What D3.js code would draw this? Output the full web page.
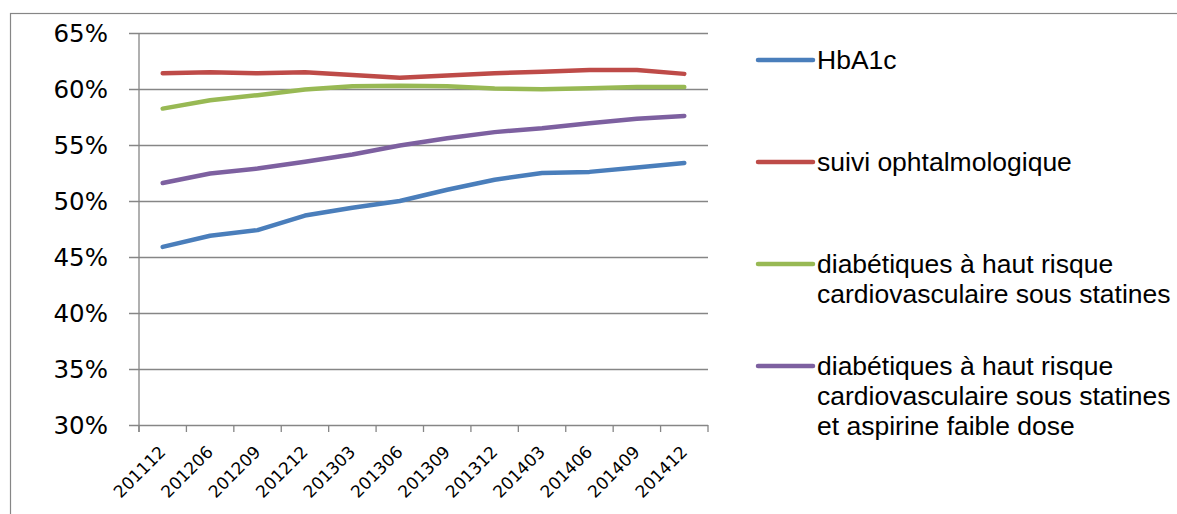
<!DOCTYPE html>
<html>
<head>
<meta charset="utf-8">
<script src="https://cdn.jsdelivr.net/npm/d3@7"></script>
<style>
  html, body { margin: 0; padding: 0; background: #fff; }
  svg { display: block; }
</style>
</head>
<body>
<svg id="chart" width="1177" height="514"></svg>
<script>
const categories = ["201112","201206","201209","201212","201303","201306","201309","201312","201403","201406","201409","201412"];
const hba1c      = [45.9, 46.9, 47.4, 48.7, 49.4, 50.0, 51.0, 51.9, 52.5, 52.6, 53.0, 53.4];
const ophtalmo   = [61.4, 61.5, 61.4, 61.5, 61.25, 61.0, 61.2, 61.4, 61.55, 61.7, 61.7, 61.35];
const statines   = [58.25, 59.0, 59.45, 59.95, 60.25, 60.3, 60.25, 60.05, 59.97, 60.06, 60.17, 60.17];
const statinesAspirine = [51.6, 52.45, 52.9, 53.5, 54.15, 54.95, 55.6, 56.15, 56.5, 56.95, 57.35, 57.6];
const yTicks = [30, 35, 40, 45, 50, 55, 60, 65];
const seriesNames = [
  ["HbA1c"],
  ["suivi ophtalmologique"],
  ["diabétiques à haut risque", "cardiovasculaire sous statines"],
  ["diabétiques à haut risque", "cardiovasculaire sous statines", "et aspirine faible dose"]
];
const seriesValues = [hba1c, ophtalmo, statines, statinesAspirine];
const colors = ["#4A7EBB", "#BE4B48", "#98B954", "#7D60A0"];

(function () {
const svg = d3.select("#chart");
const gridColor = "#868686";

// outer frame
svg.append("rect")
  .attr("x", 10.5).attr("y", 13.5)
  .attr("width", 1300).attr("height", 700)
  .attr("fill", "none").attr("stroke", gridColor).attr("stroke-width", 1.2);

const pLeft = 139, pRight = 708, pTop = 33, pBottom = 425;
const x = d3.scaleBand().domain(categories).range([pLeft, pRight]).paddingInner(0).paddingOuter(0);
const y = d3.scaleLinear().domain([30, 65]).range([pBottom, pTop]);

// y grid + ticks + labels
const yAxis = d3.axisLeft(y).tickValues(yTicks).tickSize(-(pRight - pLeft)).tickPadding(0)
  .tickFormat(d => d + "%");
const gy = svg.append("g").attr("transform", `translate(${pLeft},0)`).call(yAxis);
gy.select(".domain").remove();
gy.selectAll(".tick line")
  .attr("x1", -10).attr("x2", pRight - pLeft)
  .attr("stroke", gridColor).attr("stroke-width", 1.3);
gy.selectAll(".tick text")
  .attr("x", -31).attr("dy", "0.36em")
  .attr("font-family", "DejaVu Sans").attr("font-size", 24.5)
  .attr("fill", "#000").attr("text-anchor", "end");

// y axis line
svg.append("line")
  .attr("x1", pLeft).attr("x2", pLeft).attr("y1", pTop).attr("y2", pBottom + 7)
  .attr("stroke", gridColor).attr("stroke-width", 1.3);

// x axis ticks (category boundaries)
const boundaries = categories.map(c => x(c)).concat([pRight]);
svg.append("g").selectAll("line").data(boundaries).join("line")
  .attr("x1", d => d).attr("x2", d => d)
  .attr("y1", pBottom).attr("y2", pBottom + 7)
  .attr("stroke", gridColor).attr("stroke-width", 1.3);

// x labels
svg.append("g").selectAll("text").data(categories).join("text")
  .attr("transform", d => `translate(${x(d) + x.bandwidth() / 2 + 4},${pBottom + 28}) rotate(-45)`)
  .attr("text-anchor", "end")
  .attr("font-family", "DejaVu Sans").attr("font-size", 17)
  .attr("fill", "#000")
  .text(d => d);

// lines
const line = d3.line()
  .x((d, i) => x(categories[i]) + x.bandwidth() / 2)
  .y(d => y(d));
seriesValues.forEach((vals, k) => {
  svg.append("path")
    .datum(vals)
    .attr("d", line)
    .attr("fill", "none")
    .attr("stroke", colors[k])
    .attr("stroke-width", 4.5)
    .attr("stroke-linecap", "round")
    .attr("stroke-linejoin", "round");
});

// legend
const legendY = [60, 162, 264, 366];
const lg = svg.append("g");
seriesNames.forEach((lines, k) => {
  const ly = legendY[k];
  lg.append("line")
    .attr("x1", 758).attr("x2", 813).attr("y1", ly).attr("y2", ly)
    .attr("stroke", colors[k]).attr("stroke-width", 4.5).attr("stroke-linecap", "round");
  const t = lg.append("text")
    .attr("font-family", "Liberation Sans").attr("font-size", 26.5).attr("fill", "#000");
  lines.forEach((s, j) => {
    t.append("tspan").attr("x", 817).attr("y", ly + 9 + j * 30).text(s);
  });
});
})();
</script>
</body>
</html>
